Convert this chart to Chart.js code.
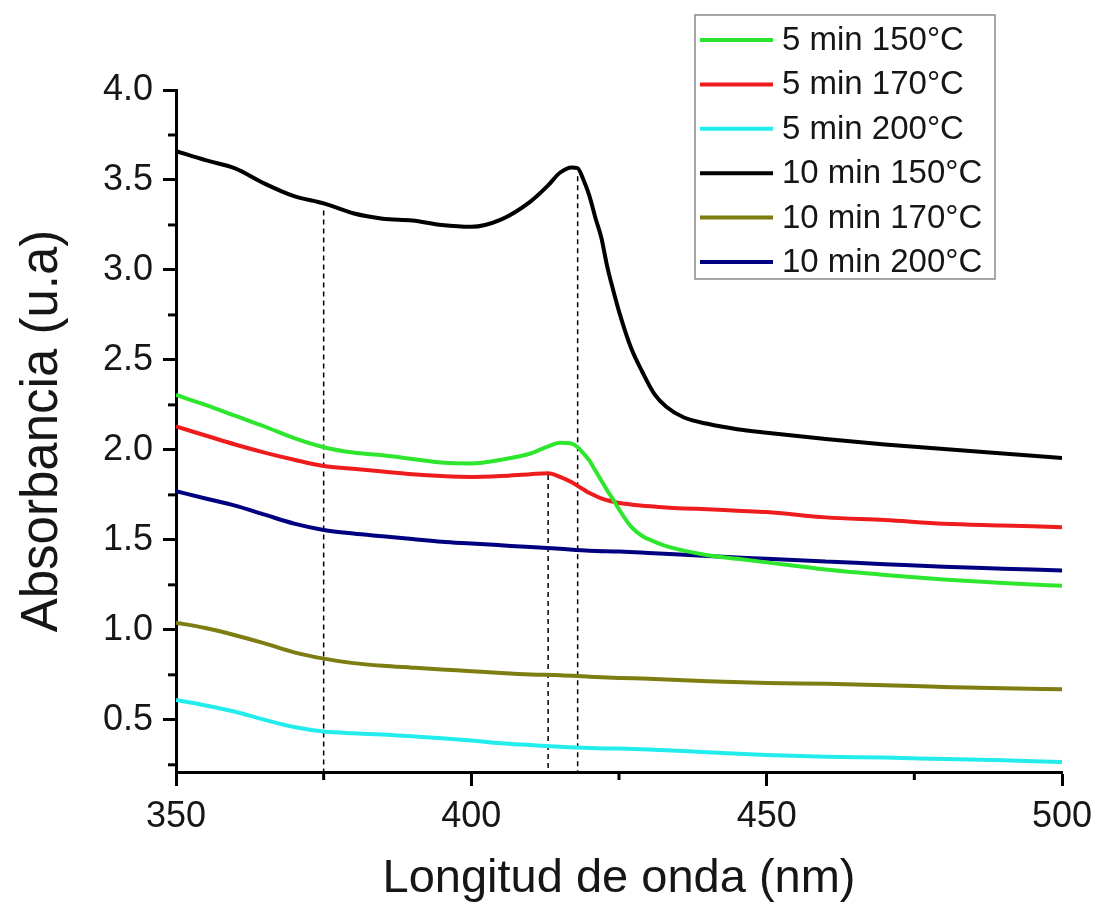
<!DOCTYPE html>
<html><head><meta charset="utf-8">
<script src="https://cdn.jsdelivr.net/npm/chart.js@4.4.1/dist/chart.umd.min.js"></script>
<style>html,body{margin:0;padding:0;background:#fff}canvas{display:block}</style>
</head><body>
<canvas id="c" width="1097" height="907"></canvas>
<script>
const seriesLabels = ['5 min 150°C','5 min 170°C','5 min 200°C','10 min 150°C','10 min 170°C','10 min 200°C'];
const seriesColors = ['#2ee62e','#ee1c1c','#22ecec','#000000','#7d7d12','#000080'];

const wlFine = [350,355,360,365,370,375,380,385,390,395,400,405,410,413,415,417,418,419,420,421,422,423,424,425,427,429,431,433,436,440,445,450,460,470,480,490,500];
const wlBase = [350,355,360,365,370,375,380,385,390,395,400,405,410,415,420,425,430,440,450,460,470,480,490,500];

const abs5min150 = [2.305,2.25,2.19,2.13,2.065,2.015,1.985,1.97,1.95,1.93,1.925,1.945,1.98,
  2.02,2.04,2.035,2.015,1.98,1.94,1.885,1.83,1.775,1.725,1.67,
  1.575,1.52,1.49,1.465,1.44,1.415,1.395,1.375,
  1.335,1.305,1.28,1.26,1.245];
const abs5min170 = [2.13,2.08,2.03,1.985,1.945,1.91,1.895,1.88,1.865,1.855,1.85,1.855,1.865,
  1.87,1.85,1.82,1.80,1.78,1.76,1.745,1.73,1.72,1.712,1.705,
  1.697,1.69,1.685,1.68,1.675,1.67,1.662,1.655,
  1.625,1.61,1.59,1.58,1.57];
const abs5min200 = [0.61,0.58,0.545,0.50,0.46,0.435,0.425,0.418,0.408,0.398,0.385,0.37,0.36,0.35,0.343,0.34,0.335,0.32,0.305,0.295,0.29,0.282,0.275,0.265];
const abs10min150 = [3.66,3.61,3.565,3.48,3.41,3.37,3.315,3.285,3.275,3.25,3.24,3.28,3.38,
  3.47,3.54,3.57,3.565,3.50,3.41,3.29,3.18,3.02,2.89,2.77,
  2.57,2.43,2.31,2.24,2.18,2.145,2.115,2.095,
  2.06,2.03,2.005,1.98,1.955];
const abs10min170 = [1.04,1.01,0.97,0.925,0.875,0.84,0.815,0.80,0.79,0.78,0.77,0.76,0.752,0.748,0.74,0.733,0.728,0.715,0.705,0.70,0.692,0.683,0.675,0.67];
const abs10min200 = [1.77,1.73,1.69,1.64,1.59,1.555,1.535,1.52,1.505,1.49,1.48,1.47,1.46,1.45,1.44,1.435,1.427,1.41,1.395,1.38,1.365,1.35,1.34,1.33];

const markerWl = [375, 413, 418];
const markerTop = [3.33, 1.86, 3.52];

const xTicks = [350, 400, 450, 500];
const xMinor = [375, 425, 475];
const yTicks = [0.5, 1.0, 1.5, 2.0, 2.5, 3.0, 3.5, 4.0];
const yMinor = [0.25, 0.75, 1.25, 1.75, 2.25, 2.75, 3.25, 3.75];
const yMin = 0.21, yMax = 4.0, xMin = 350, xMax = 500;

const FONT = "'Liberation Sans', Arial, sans-serif";
const pts = (xs, ys) => xs.map((x, i) => ({x, y: ys[i]}));
const seriesData = [
  pts(wlFine, abs5min150), pts(wlFine, abs5min170), pts(wlBase, abs5min200),
  pts(wlFine, abs10min150), pts(wlBase, abs10min170), pts(wlBase, abs10min200)
];

const datasets = seriesLabels.map((lab, i) => ({
  label: lab, data: seriesData[i], borderColor: seriesColors[i], backgroundColor: seriesColors[i],
  borderWidth: 4, pointRadius: 0, cubicInterpolationMode: 'monotone', order: 1, isSeries: true
}));
markerWl.forEach((w, i) => datasets.push({
  label: 'marker' + i, data: [{x: w, y: markerTop[i]}, {x: w, y: yMin}],
  borderColor: '#000', borderWidth: 1.5, borderDash: [5, 4], pointRadius: 0, order: 10, isSeries: false
}));

const minorTicks = {
  id: 'minorTicks',
  afterDatasetsDraw(chart) {
    const ctx = chart.ctx, xs = chart.scales.x, ys = chart.scales.y, a = chart.chartArea;
    ctx.save(); ctx.strokeStyle = '#000'; ctx.lineWidth = 3;
    xMinor.forEach(v => { const p = xs.getPixelForValue(v); ctx.beginPath(); ctx.moveTo(p, a.bottom); ctx.lineTo(p, a.bottom + 8); ctx.stroke(); });
    yMinor.forEach(v => { const p = ys.getPixelForValue(v); ctx.beginPath(); ctx.moveTo(a.left, p); ctx.lineTo(a.left - 8, p); ctx.stroke(); });
    ctx.restore();
  }
};

const boxLegend = {
  id: 'boxLegend',
  afterDraw(chart) {
    const ctx = chart.ctx;
    const bx = 695, by = 15, bw = 300, bh = 264, rowH = 44.4;
    ctx.save();
    ctx.fillStyle = '#fff'; ctx.fillRect(bx, by, bw, bh);
    ctx.strokeStyle = '#8a8a8a'; ctx.lineWidth = 1.5; ctx.strokeRect(bx, by, bw, bh);
    ctx.font = '33px ' + FONT; ctx.textBaseline = 'middle'; ctx.fillStyle = '#161616';
    chart.data.datasets.filter(d => d.isSeries).forEach((d, i) => {
      const yy = 40 + i * rowH;
      ctx.strokeStyle = d.borderColor; ctx.lineWidth = 4;
      ctx.beginPath(); ctx.moveTo(700, yy); ctx.lineTo(773, yy); ctx.stroke();
      ctx.fillText(d.label, 782, yy + 1);
    });
    ctx.restore();
  }
};

new Chart(document.getElementById('c'), {
  type: 'line',
  data: { datasets },
  plugins: [minorTicks, boxLegend],
  options: {
    responsive: false, devicePixelRatio: 1, animation: false,
    layout: { padding: { top: 90, right: 35, left: 0, bottom: 0 } },
    plugins: { legend: { display: false }, tooltip: { enabled: false } },
    scales: {
      x: {
        type: 'linear', min: xMin, max: xMax, position: 'bottom',
        afterFit: s => { s.height = 135; s.paddingLeft = 0; s.paddingRight = 0; },
        afterBuildTicks: s => { s.ticks = xTicks.map(v => ({value: v})); },
        grid: { drawOnChartArea: false, drawTicks: true, tickLength: 14, tickWidth: 3, tickColor: '#000' },
        border: { display: true, width: 3, color: '#000' },
        ticks: { font: { family: FONT, size: 36 }, color: '#161616', padding: 9, maxRotation: 0 },
        title: { display: true, text: 'Longitud de onda (nm)', font: { family: FONT, size: 47 }, color: '#161616', padding: { top: 0, bottom: 0 } }
      },
      y: {
        type: 'linear', min: yMin, max: yMax,
        afterFit: s => { s.width = 176; s.paddingTop = 0; s.paddingBottom = 0; },
        afterBuildTicks: s => { s.ticks = yTicks.map(v => ({value: v})); },
        grid: { drawOnChartArea: false, drawTicks: true, tickLength: 13, tickWidth: 3, tickColor: '#000' },
        border: { display: true, width: 3, color: '#000' },
        ticks: { font: { family: FONT, size: 36 }, color: '#161616', padding: 10, callback: v => Number(v).toFixed(1) },
        title: { display: true, text: 'Absorbancia (u.a)', font: { family: FONT, size: 51 }, color: '#161616', padding: { top: 12, bottom: 0 } }
      }
    }
  }
});
</script>
</body></html>
